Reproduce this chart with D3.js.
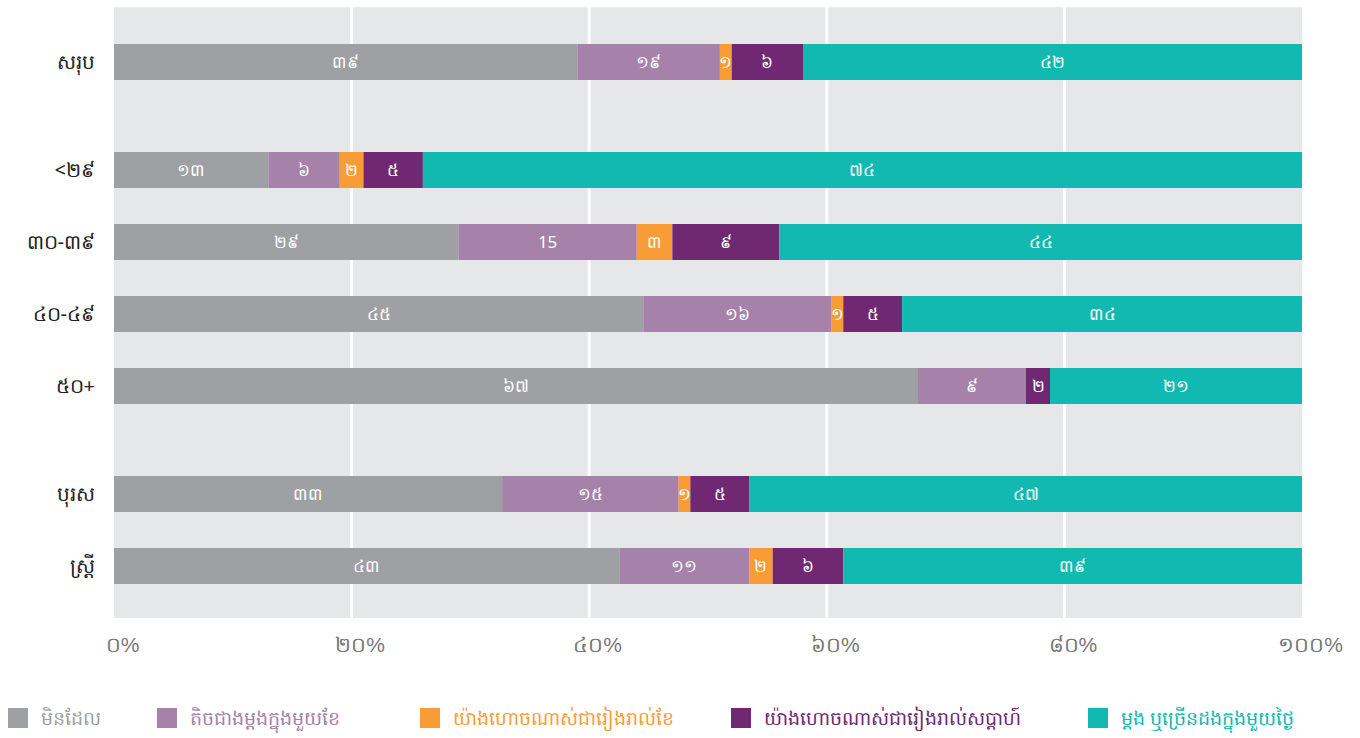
<!DOCTYPE html>
<html>
<head>
<meta charset="utf-8">
<script src="https://d3js.org/d3.v7.min.js"></script>
<style>
  body { margin: 0; background: #fff; font-family: "Noto Sans", "DejaVu Sans", sans-serif; }
  .rowlabel { font-size: 20px; fill: #222; }
  .seglabel { font-size: 17px; fill: #fff; }
  .tick text { font-size: 21px; fill: #777; }
  .legend text { font-size: 19px; }
</style>
</head>
<body>
<div id="chart"></div>
<script>
// categories (row labels) and their vertical slot (gaps between groups)
var rows = ["សរុប", "<២៩", "៣០-៣៩", "៤០-៤៩", "៥០+", "បុរស", "ស្ត្រី"];
var slots = [0, 1.5, 2.5, 3.5, 4.5, 6, 7];

var series = ["មិនដែល", "តិចជាងម្ដងក្នុងមួយខែ", "យ៉ាងហោចណាស់ជារៀងរាល់ខែ",
              "យ៉ាងហោចណាស់ជារៀងរាល់សប្ដាហ៍", "ម្ដង ឬច្រើនដងក្នុងមួយថ្ងៃ"];
var colors = ["#9fa0a3", "#a681a9", "#f89c35", "#6f2871", "#12b9b0"];

// values per row, series order
var never   = [39, 13, 29, 45, 67, 33, 43];
var lessMon = [12,  6, 15, 16,  9, 15, 11];
var monthly = [ 1,  2,  3,  1,  0,  1,  2];
var weekly  = [ 6,  5,  9,  5,  2,  5,  6];
var daily   = [42, 74, 44, 34, 21, 47, 39];

// labels as printed on the segments
var segText = [
  ["៣៩", "១៩", "១", "៦", "៤២"],
  ["១៣", "៦", "២", "៥", "៧៤"],
  ["២៩", "15", "៣", "៩", "៤៤"],
  ["៤៥", "១៦", "១", "៥", "៣៤"],
  ["៦៧", "៩", "", "២", "២១"],
  ["៣៣", "១៥", "១", "៥", "៤៧"],
  ["៤៣", "១១", "២", "៦", "៣៩"]
];

var ticks = [0, 20, 40, 60, 80, 100];
var tickText = ["០%", "២០%", "៤០%", "៦០%", "៨០%", "១០០%"];

var width = 1360, height = 738;

var svg = d3.select("#chart").append("svg")
    .attr("width", width)
    .attr("height", height);

var x = d3.scaleLinear().domain([0, 100]).range([114, 1302]);
var y = d3.scaleLinear().domain([0, 1]).range([62, 134]);
var barH = 36;

// plot background
svg.append("rect")
  .attr("x", x(0)).attr("y", y(-0.76))
  .attr("width", x(100) - x(0))
  .attr("height", y(7.72) - y(-0.76))
  .attr("fill", "#e6e7e9");

svg.selectAll("line.grid").data(ticks.slice(1, 5))
  .enter().append("line")
  .attr("class", "grid")
  .attr("x1", function(d){ return x(d); })
  .attr("x2", function(d){ return x(d); })
  .attr("y1", y(-0.76)).attr("y2", y(7.72))
  .attr("stroke", "#fff").attr("stroke-width", 3);

var table = rows.map(function(r, i){
  return { row: r, slot: slots[i], vals: [never[i], lessMon[i], monthly[i], weekly[i], daily[i]], text: segText[i] };
});

table.forEach(function(d){
  var total = d3.sum(d.vals);
  var acc = 0;
  var segs = d.vals.map(function(v, j){
    var s = { x0: acc / total * 100, x1: (acc + v) / total * 100, c: colors[j], t: d.text[j] };
    acc += v;
    return s;
  });

  var g = svg.append("g");
  g.selectAll("rect").data(segs).enter().append("rect")
    .attr("x", function(s){ return x(s.x0); })
    .attr("width", function(s){ return x(s.x1) - x(s.x0); })
    .attr("y", y(d.slot) - barH / 2)
    .attr("height", barH)
    .attr("fill", function(s){ return s.c; });

  g.selectAll("text").data(segs).enter().append("text")
    .attr("class", "seglabel")
    .attr("x", function(s){ return (x(s.x0) + x(s.x1)) / 2; })
    .attr("y", y(d.slot) + 6)
    .attr("text-anchor", "middle")
    .text(function(s){ return s.t; });

  svg.append("text")
    .attr("class", "rowlabel")
    .attr("x", 95)
    .attr("y", y(d.slot) + 7)
    .attr("text-anchor", "end")
    .text(d.row);
});

// x axis labels
var axis = d3.axisBottom(x).tickValues(ticks)
  .tickFormat(function(d, i){ return tickText[i]; })
  .tickSize(0).tickPadding(0);

var ax = svg.append("g")
  .attr("transform", "translate(8," + 637 + ")")
  .call(axis);
ax.select(".domain").remove();

// legend
var legX = [8, 157, 420, 731, 1088];
var legend = svg.append("g").attr("class", "legend");
series.forEach(function(s, i){
  legend.append("rect")
    .attr("x", legX[i]).attr("y", 708)
    .attr("width", 20).attr("height", 20)
    .attr("fill", colors[i]);
  legend.append("text")
    .attr("x", legX[i] + 33).attr("y", 725)
    .attr("fill", i == 0 ? "#9fa0a3" : colors[i])
    .text(s);
});
</script>
</body>
</html>
